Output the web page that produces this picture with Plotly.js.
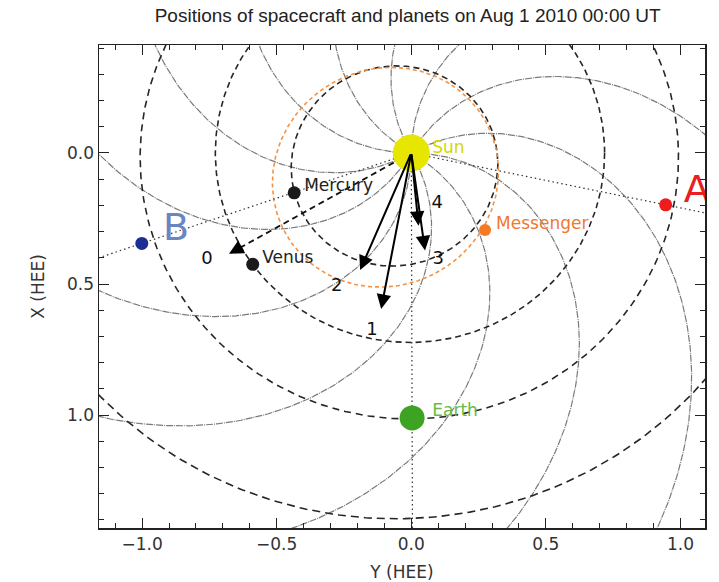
<!DOCTYPE html>
<html><head><meta charset="utf-8">
<script src="https://cdn.plot.ly/plotly-3.0.1.min.js"></script>
<style>html,body{margin:0;padding:0;background:#fff}</style>
</head><body><div id="chart" style="width:719px;height:582px"></div>
<script>
// ---- Bodies (HEE coordinates, AU): Y horizontal, X vertical (down) ----
const bodyNames  = ['Sun', 'Mercury', 'Venus', 'Earth', 'Messenger', 'STEREO A', 'STEREO B'];
const bodyY      = [0.0, -0.435, -0.589, 0.003, 0.274, 0.945, -1.001];
const bodyX      = [0.0,  0.152,  0.425, 1.011, 0.294, 0.198,  0.345];
const bodyColors = ['#e6e600', '#1a1a1a', '#1a1a1a', '#3da322', '#f57a22', '#ee1c1c', '#1c2e96'];
const bodySizes  = [37, 13, 13, 25, 12, 13, 13];

// ---- Body labels ----
const labelText   = ['Sun', 'Mercury', 'Venus', 'Earth', 'Messenger', 'A', 'B'];
const labelY      = [0.078, -0.398, -0.554, 0.078, 0.315, 1.012, -0.922];
const labelX      = [-0.015, 0.130, 0.405, 0.989, 0.275, 0.149, 0.294];
const labelColors = ['#d6d600', '#222222', '#222222', '#66bb44', '#f07830', '#e82020', '#6a84c4'];
const labelSizes  = [17, 17, 17, 17, 17, 38, 38];

// ---- Arrows from the Sun (tips) and their numbers ----
const arrowNames  = ['0', '1', '2', '3', '4'];
const arrowTipY   = [-0.677, -0.112, -0.190, 0.051, 0.027];
const arrowTipX   = [ 0.385,  0.595,  0.447, 0.372, 0.278];
const arrowDashed = [true, false, false, false, false];
const numLabelY   = [-0.759, -0.146, -0.277, 0.100, 0.096];
const numLabelX   = [ 0.408,  0.676,  0.511, 0.408, 0.191];

// ---- Orbits: semi-major axis (AU), eccentricity, perihelion angle (deg, atan2(X,Y)) ----
const orbitNames  = ['Mercury', 'Venus', 'Earth', 'Mars', 'Messenger'];
const orbitA      = [0.387, 0.723, 1.000, 1.524, 0.430];
const orbitE      = [0.2056, 0.0068, 0.0167, 0.0934, 0.310];
const orbitPeri   = [-38.5, 0, -64, 63, -44];
const orbitColors = ['#262626', '#262626', '#262626', '#262626', '#f39244'];
const orbitDash   = ['6px,4px', '6px,4px', '7px,5px', '8px,5px', '4px,3px'];

// ---- Parker spirals: footpoint angles (deg, screen, ccw from +Y) and twist (deg/AU) ----
const spiralFoot  = [0, 30, 60, 90, 120, 150, 180, 210, 240, 270, 300, 330];
const spiralTwist = 51.5;

// ---- Dotted radial lines from the Sun through these bodies ----
const rayBodies = ['STEREO A', 'STEREO B', 'Earth'];

const traces = [];
const d2r = Math.PI / 180;

// Spirals
spiralFoot.forEach(p0 => {
  const xs = [], ys = [];
  for (let i = 0; i <= 240; i++) {
    const r = i * 0.01;
    const th = (-p0 + spiralTwist * r) * d2r;
    xs.push(r * Math.cos(th)); ys.push(r * Math.sin(th));
  }
  traces.push({x: xs, y: ys, mode: 'lines', hoverinfo: 'skip',
    line: {color: '#7a7a7a', width: 1.2, dash: '7px,1px,1px,1px'}});
});

// Orbits
orbitNames.forEach((n, k) => {
  const a = orbitA[k], e = orbitE[k], p = a * (1 - e * e);
  const xs = [], ys = [];
  for (let t = 0; t <= 360; t++) {
    const r = p / (1 + e * Math.cos((t - orbitPeri[k]) * d2r));
    xs.push(r * Math.cos(t * d2r)); ys.push(r * Math.sin(t * d2r));
  }
  traces.push({x: xs, y: ys, mode: 'lines', hoverinfo: 'skip',
    line: {color: orbitColors[k], width: 1.6, dash: orbitDash[k]}});
});

// Rays
rayBodies.forEach(n => {
  const i = bodyNames.indexOf(n);
  traces.push({x: [0, bodyY[i] * 2], y: [0, bodyX[i] * 2], mode: 'lines', hoverinfo: 'skip',
    line: {color: '#333', width: 1.2, dash: '1.5px,3px'}});
});

// Dashed arrow shafts
arrowNames.forEach((n, i) => {
  if (arrowDashed[i]) traces.push({x: [0, arrowTipY[i]], y: [0, arrowTipX[i]], mode: 'lines',
    hoverinfo: 'skip', line: {color: '#111', width: 1.8, dash: '6px,4px'}});
});

// Bodies
traces.push({x: bodyY, y: bodyX, mode: 'markers', hoverinfo: 'skip',
  marker: {color: bodyColors, size: bodySizes, opacity: 1, line: {width: 0}}});

// Labels
traces.push({x: labelY, y: labelX, mode: 'text', text: labelText, textposition: 'middle right',
  hoverinfo: 'skip', cliponaxis: true,
  textfont: {family: 'DejaVu Sans', size: labelSizes, color: labelColors}});
traces.push({x: numLabelY, y: numLabelX, mode: 'text', text: arrowNames, textposition: 'middle center',
  hoverinfo: 'skip', cliponaxis: true,
  textfont: {family: 'DejaVu Sans', size: 18, color: '#111'}});

// Arrow annotations
const annotations = arrowNames.map((n, i) => {
  let ax = 0, ay = 0;
  if (arrowDashed[i]) {
    const L = Math.hypot(arrowTipY[i], arrowTipX[i]);
    ax = arrowTipY[i] * (1 - 0.06 / L); ay = arrowTipX[i] * (1 - 0.06 / L);
  }
  return {x: arrowTipY[i], y: arrowTipX[i], ax: ax, ay: ay, xref: 'x', yref: 'y',
    axref: 'x', ayref: 'y', text: '', showarrow: true, arrowhead: 2, arrowsize: 1.45,
    arrowwidth: 2, arrowcolor: '#000', standoff: 0};
});

const tickFont = {family: 'DejaVu Sans', size: 17, color: '#333'};
const axisCommon = {
  ticks: 'inside', ticklen: 10, tickwidth: 1, tickcolor: '#222',
  showline: true, linecolor: '#222', linewidth: 1.5, mirror: 'ticks',
  showgrid: false, zeroline: false, tickformat: '.1f', tickfont: tickFont,
  minor: {dtick: 0.1, tick0: 0, ticks: 'inside', ticklen: 5, tickwidth: 1, tickcolor: '#222', showgrid: false}
};

const layout = {
  width: 719, height: 582,
  margin: {l: 99, r: 14, t: 45, b: 54},
  paper_bgcolor: '#fff', plot_bgcolor: '#fff',
  showlegend: false,
  title: {text: 'Positions of spacecraft and planets on Aug 1 2010 00:00 UT',
    font: {family: 'Liberation Sans', size: 19, color: '#222'},
    x: 0.567, xref: 'container', xanchor: 'center', y: 0.974, yref: 'container', yanchor: 'middle'},
  xaxis: Object.assign({}, axisCommon, {range: [-1.16, 1.091], tickvals: [-1, -0.5, 0, 0.5, 1],
    title: {text: 'Y (HEE)', font: {family: 'DejaVu Sans', size: 17, color: '#333'}, standoff: 13}}),
  yaxis: Object.assign({}, axisCommon, {range: [1.431, -0.412], tickvals: [0, 0.5, 1],
    title: {text: 'X (HEE)', font: {family: 'DejaVu Sans', size: 17, color: '#333'}, standoff: 18}}),
  annotations: annotations
};

Plotly.newPlot('chart', traces, layout, {staticPlot: true, displayModeBar: false});
</script></body></html>
